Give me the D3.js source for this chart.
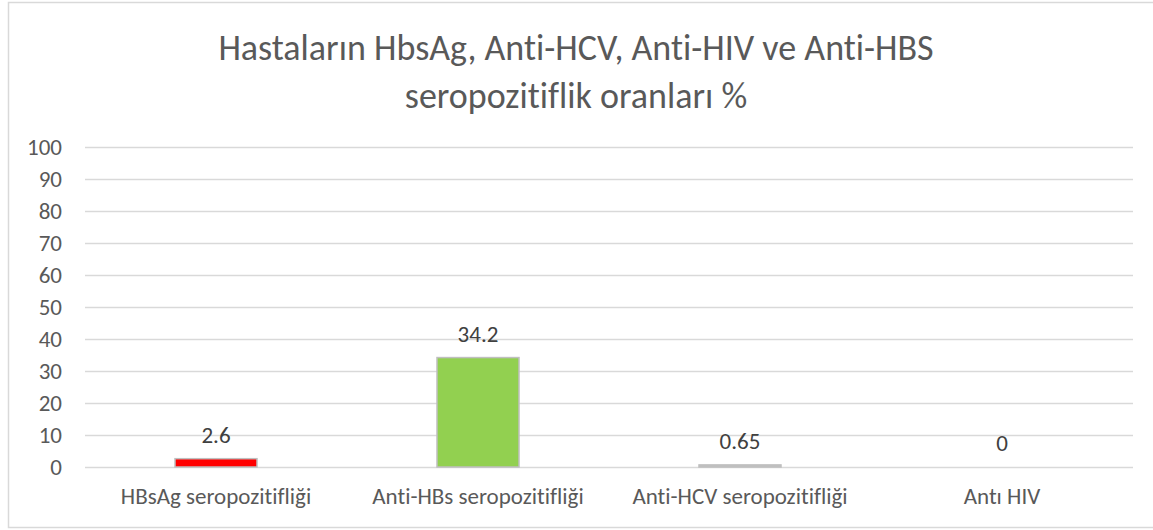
<!DOCTYPE html>
<html lang="tr">
<head>
    <meta charset="UTF-8">
    <title>Seropozitiflik oranları</title>
    <style>
        body { margin: 0; background: #fff; }
        text { font-family: Carlito, Calibri, "Open Sans", sans-serif; font-variant-ligatures: none; }
        .grid line { stroke: #d9d9d9; stroke-width: 1.5; }
        .tick text { fill: #595959; }
    </style>
</head>
<body>
    <svg id="container" width="1153" height="530"></svg>
</body>

<script src="https://cdn.jsdelivr.net/npm/d3@7/dist/d3.min.js"></script>

<script>

    let categories = ["HBsAg seropozitifliği", "Anti-HBs seropozitifliği", "Anti-HCV seropozitifliği", "Antı HIV"]
    let values = [2.6, 34.2, 0.65, 0]
    let valueLabels = ["2.6", "34.2", "0.65", "0"]
    let barColors = ["#ff0000", "#92d050", "#bfbfbf", "#a5a5a5"]
    let yTicks = [0, 10, 20, 30, 40, 50, 60, 70, 80, 90, 100]
    let titleLines = ["Hastaların HbsAg, Anti-HCV, Anti-HIV ve Anti-HBS", "seropozitiflik oranları %"]

    let svg = d3.select("#container")

    // chart frame (right side runs off the picture)
    svg.append("path")
        .attr("d", "M1160,2.5 H8.5 V527.5 H1160")
        .attr("fill", "none")
        .attr("stroke", "#d9d9d9")
        .attr("stroke-width", 1.5)

    let plotLeft = 85, plotRight = 1133, plotTop = 147, plotBottom = 467

    let xScale = d3.scaleBand()
        .domain(categories)
        .range([plotLeft, plotRight])
        .paddingInner(0.687)
        .paddingOuter(0.3435)

    let yScale = d3.scaleLinear()
        .domain([0, 100])
        .range([plotBottom, plotTop])

    // gridlines + y labels
    let yAxis = d3.axisLeft(yScale)
        .tickValues(yTicks)
        .tickSize(-(plotRight - plotLeft))
        .tickPadding(23)

    let yG = svg.append("g")
        .attr("class", "grid")
        .attr("transform", "translate(" + plotLeft + ",0)")
        .call(yAxis)
    yG.select(".domain").remove()
    yG.selectAll("text").style("font-size", "23px")

    // bars
    svg.selectAll("rect.bar")
        .data(values)
        .join("rect")
        .attr("class", "bar")
        .attr("x", (d, i) => xScale(categories[i]))
        .attr("width", xScale.bandwidth())
        .attr("y", d => yScale(d))
        .attr("height", d => yScale(0) - yScale(d))
        .attr("fill", (d, i) => barColors[i])
        .attr("stroke", "#bfbfbf")
        .attr("stroke-width", d => d > 0 ? 1.5 : 0)

    // value labels
    svg.selectAll("text.val")
        .data(values)
        .join("text")
        .attr("class", "val")
        .attr("x", (d, i) => xScale(categories[i]) + xScale.bandwidth() / 2)
        .attr("y", d => yScale(d) - 24)
        .attr("text-anchor", "middle")
        .attr("dominant-baseline", "central")
        .style("font-size", "23px")
        .attr("fill", "#404040")
        .text((d, i) => valueLabels[i])

    // category labels
    let xAxis = d3.axisBottom(xScale).tickSize(0).tickPadding(21)
    let xG = svg.append("g")
        .attr("transform", "translate(0," + plotBottom + ")")
        .call(xAxis)
    xG.select(".domain").remove()
    xG.selectAll("text").style("font-size", "23px")

    // title
    svg.append("g")
        .selectAll("text")
        .data(titleLines)
        .join("text")
        .attr("x", 576)
        .attr("y", (d, i) => 60 + i * 48)
        .attr("text-anchor", "middle")
        .attr("fill", "#595959")
        .style("font-size", "36px")
        .text(d => d)

</script>
</html>
